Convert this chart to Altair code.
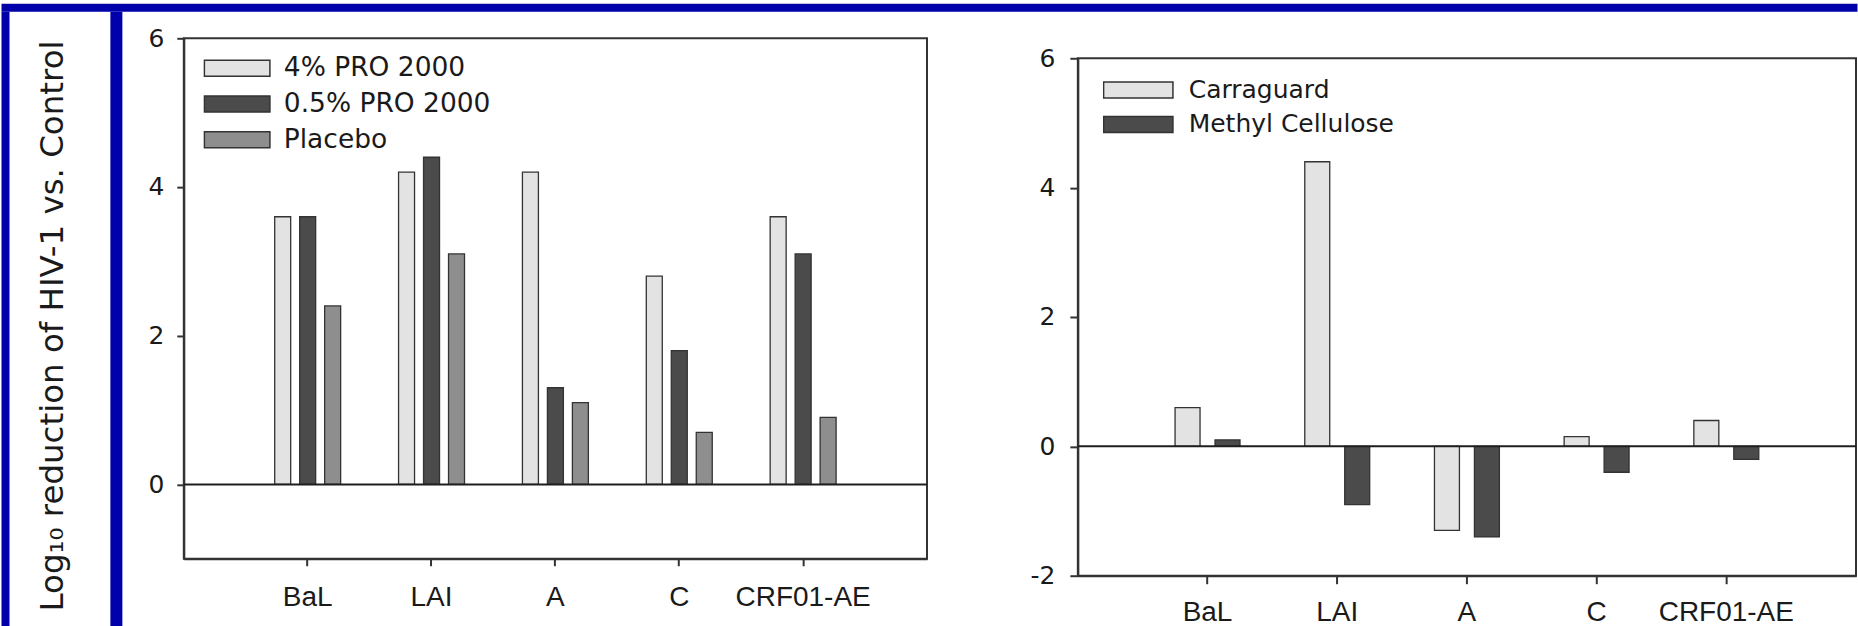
import altair as alt
import pandas as pd

# ---------------- data ----------------
strains = ["BaL", "LAI", "A", "C", "CRF01-AE"]

left_series = ["4% PRO 2000", "0.5% PRO 2000", "Placebo"]
pro_4 = [3.6, 4.2, 4.2, 2.8, 3.6]
pro_05 = [3.6, 4.4, 1.3, 1.8, 3.1]
placebo = [2.4, 3.1, 1.1, 0.7, 0.9]

right_series = ["Carraguard", "Methyl Cellulose"]
carraguard = [0.6, 4.4, -1.3, 0.15, 0.4]
methyl_cellulose = [0.1, -0.9, -1.4, -0.4, -0.2]

left_y_ticks = [0, 2, 4, 6]
right_y_ticks = [-2, 0, 2, 4, 6]

y_title = "Log\u2081\u2080 reduction of HIV-1 vs. Control"

# ---------------- styles ----------------
BLUE = "#0000aa"
FRAME = "#333333"
TXT = "#1a1a1a"
left_colors = ["#e3e3e3", "#4b4b4b", "#8e8e8e"]
right_colors = ["#e3e3e3", "#4b4b4b"]

left_df = pd.DataFrame({
    "strain": strains * 3,
    "series": [s for s in left_series for _ in strains],
    "value": pro_4 + pro_05 + placebo,
})
right_df = pd.DataFrame({
    "strain": strains * 2,
    "series": [s for s in right_series for _ in strains],
    "value": carraguard + methyl_cellulose,
})


def rect_path(half_h):
    return f"M-1,-{half_h}L1,-{half_h}L1,{half_h}L-1,{half_h}Z"


def panel(df, series, colors, width, height, ydom, x_inner, off_inner, off_outer,
          legend, y_axis, x_axis):
    bars = alt.Chart(df).mark_bar(stroke=FRAME, strokeWidth=1.3).encode(
        x=alt.X("strain:N", sort=strains,
                scale=alt.Scale(paddingInner=x_inner, paddingOuter=0.5 + x_inner / 2),
                axis=x_axis),
        xOffset=alt.XOffset("series:N", sort=series,
                            scale=alt.Scale(paddingInner=off_inner, paddingOuter=off_outer)),
        y=alt.Y("value:Q", scale=alt.Scale(domain=ydom, nice=False), axis=y_axis),
        y2=alt.datum(0),
        fill=alt.Fill("series:N", sort=series,
                      scale=alt.Scale(domain=series, range=colors), legend=legend),
    )
    zero = alt.Chart(pd.DataFrame({"z": [0]})).mark_rule(
        color="#1e1e1e", strokeWidth=2
    ).encode(y=alt.datum(0))
    return alt.layer(bars, zero).properties(
        width=width, height=height,
        view=alt.ViewBackground(stroke=FRAME, strokeWidth=2, fill="white"),
    )


def block(w, h, fill=None):
    props = {"stroke": "transparent"}
    if fill:
        props["fill"] = fill
    return alt.Chart(pd.DataFrame({"d": [0]})).mark_text(text="").properties(
        width=w, height=h, view=alt.ViewBackground(**props)
    )


common_y = dict(tickColor=FRAME, tickWidth=2, domainColor=FRAME, domainWidth=2,
                labelFont="DejaVu Sans", labelFontSize=25, labelColor=TXT,
                grid=False, labelExpr="'' + datum.value")
common_x = dict(title=None, labelAngle=0, labelFont="Liberation Sans", labelFontSize=28,
                labelColor=TXT, tickColor=FRAME, tickWidth=2, domainColor=FRAME,
                domainWidth=2, grid=False)

left_plot = panel(
    left_df, left_series, left_colors, 744, 521, [-1, 6], 0.395, 0.36, 0.18,
    alt.Legend(orient="none", legendX=19.4, legendY=14, title=None,
               symbolType=rect_path(0.244), symbolSize=4303,
               symbolStrokeColor=FRAME, symbolStrokeWidth=1.5, symbolOffset=0,
               labelFont="DejaVu Sans", labelFontSize=26.5, labelColor=TXT,
               labelLimit=600, labelOffset=12.7, clipHeight=32, rowPadding=3.75,
               padding=0),
    alt.Axis(values=left_y_ticks, tickSize=7, labelPadding=13,
             title=y_title, titleFont="DejaVu Sans", titleFontSize=32.5,
             titleFontWeight="normal", titleColor=TXT, titleAngle=270,
             titleAlign="center", titleBaseline="middle", titleX=-131, titleY=287.5,
             **common_y),
    alt.Axis(tickSize=7, labelPadding=18, **common_x),
)

right_plot = panel(
    right_df, right_series, right_colors, 779, 518, [-2, 6], 0.3838, 0.375, 0.1875,
    alt.Legend(orient="none", legendX=25, legendY=15.7, title=None,
               symbolType=rect_path(0.2305), symbolSize=4816,
               symbolStrokeColor=FRAME, symbolStrokeWidth=1.5, symbolOffset=0,
               labelFont="DejaVu Sans", labelFontSize=25, labelColor=TXT,
               labelLimit=600, labelOffset=15, clipHeight=32, rowPadding=2.6,
               padding=0),
    alt.Axis(values=right_y_ticks, tickSize=8, labelPadding=15, title=None, **common_y),
    alt.Axis(tickSize=8, labelPadding=15, **common_x),
)

res = dict(x="independent", y="independent", fill="independent", xOffset="independent")


def indep(c):
    return c.resolve_scale(**res).resolve_legend(fill="independent")


# each nested composition is the last item of its parent (flush bounds)
z = indep(alt.vconcat(block(779, 20), right_plot, spacing=0, bounds="flush"))
y = indep(alt.hconcat(left_plot, block(151, 521), z, spacing=0, bounds="flush"))
x = indep(alt.vconcat(block(744, 27), y, spacing=0, bounds="flush"))
row = indep(alt.hconcat(
    block(8, 618, BLUE), block(101, 618), block(12, 618, BLUE), block(62, 618), x,
    spacing=0, bounds="flush",
))

chart = indep(alt.vconcat(
    block(1858, 8, BLUE), row, spacing=0, bounds="flush"
)).properties(background="white", padding=0)

chart.save("out.html", embed_options={"renderer": "svg", "actions": False})
